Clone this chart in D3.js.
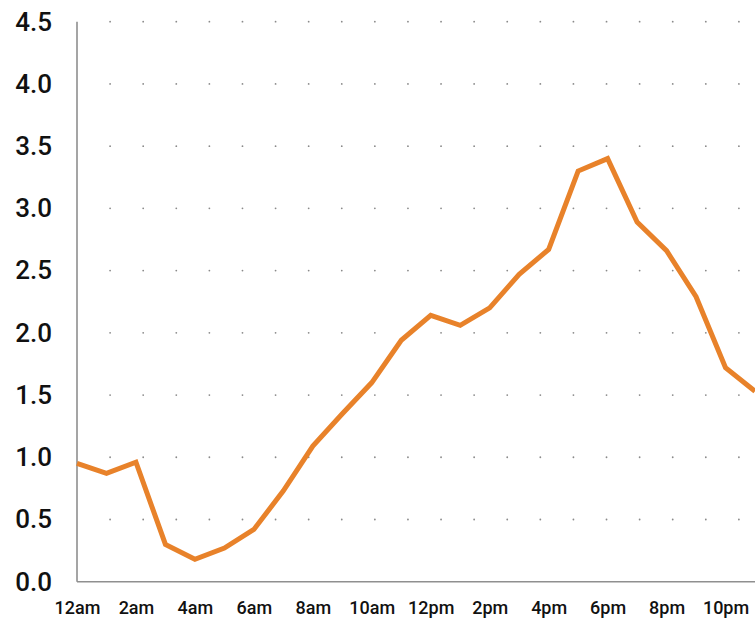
<!DOCTYPE html>
<html>
<head>
<meta charset="utf-8">
<script src="https://cdn.jsdelivr.net/npm/d3@7"></script>
<style>
  html, body { margin: 0; padding: 0; background: #fff; overflow: hidden; }
  svg { display: block; }
  text { font-family: Roboto, "DejaVu Sans", sans-serif; font-weight: 500; fill: #111; }
</style>
</head>
<body>
<svg id="chart" width="755" height="622"></svg>
<script>
const hours = ["12am","1am","2am","3am","4am","5am","6am","7am","8am","9am","10am","11am",
               "12pm","1pm","2pm","3pm","4pm","5pm","6pm","7pm","8pm","9pm","10pm","11pm"];
const values = [0.95, 0.87, 0.96, 0.30, 0.18, 0.27, 0.42, 0.73, 1.09, 1.35, 1.60, 1.94,
                2.14, 2.06, 2.20, 2.47, 2.67, 3.30, 3.40, 2.89, 2.66, 2.29, 1.72, 1.53];
const xTickLabels = ["12am","2am","4am","6am","8am","10am","12pm","2pm","4pm","6pm","8pm","10pm"];
const yTicks = [0, 0.5, 1.0, 1.5, 2.0, 2.5, 3.0, 3.5, 4.0, 4.5];

(function () {
const svg = d3.select("#chart");
const mLeft = 77, mRight = 755, mTop = 21.7, mBottom = 581.7;

const x = d3.scalePoint().domain(hours).range([mLeft, mRight]);
const y = d3.scaleLinear().domain([0, 4.5]).range([mBottom, mTop]);

// dotted grid
const dotX = d3.scaleLinear().domain([0, 21]).range([mLeft, 772]);
const dotCols = d3.range(1, 21);
const dotRows = yTicks.filter(v => v > 0);
const grid = svg.append("g");
dotRows.forEach(v => {
  grid.selectAll(null).data(dotCols).enter().append("circle")
    .attr("cx", d => dotX(d)).attr("cy", y(v)).attr("r", 0.9).attr("fill", "#8a8a8a");
});

// axes lines
svg.append("line").attr("x1", mLeft).attr("x2", mLeft).attr("y1", mTop).attr("y2", mBottom)
  .attr("stroke", "#8f8f8f").attr("stroke-width", 1.6);
svg.append("line").attr("x1", mLeft).attr("x2", mRight).attr("y1", mBottom).attr("y2", mBottom)
  .attr("stroke", "#8f8f8f").attr("stroke-width", 1.6);

// y axis labels
const yAxis = d3.axisLeft(y).tickValues(yTicks).tickFormat(d3.format(".1f")).tickSize(0).tickPadding(25);
const gy = svg.append("g").attr("transform", `translate(${mLeft},0)`).call(yAxis);
gy.select(".domain").remove();
gy.selectAll("text").style("font-size", "26px").attr("fill", "#111")
  .style("font-family", "Roboto, sans-serif").style("font-weight", 500);

// x axis labels
const xAxis = d3.axisBottom(x).tickValues(xTickLabels).tickSize(0).tickPadding(20);
const gx = svg.append("g").attr("transform", `translate(0,${mBottom})`).call(xAxis);
gx.select(".domain").remove();
gx.selectAll("text").style("font-size", "18px").attr("fill", "#111")
  .style("font-family", "Roboto, sans-serif").style("font-weight", 500);

// line
const line = d3.line().x((d, i) => x(hours[i])).y(d => y(d));
svg.append("path").datum(values).attr("d", line)
  .attr("fill", "none").attr("stroke", "#E8822A").attr("stroke-width", 5)
  .attr("stroke-linejoin", "miter").attr("stroke-linecap", "butt");
})();
</script>
</body>
</html>
